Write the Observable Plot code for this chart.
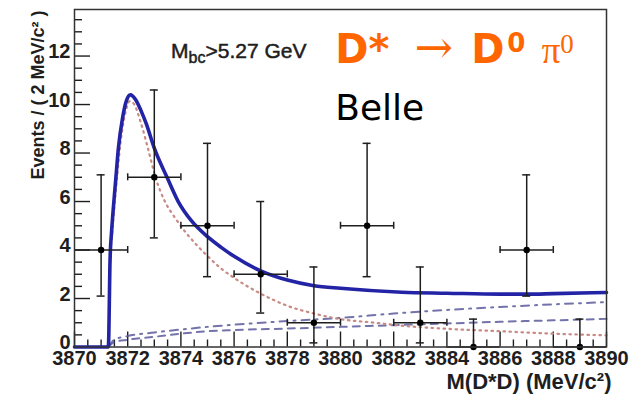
<!DOCTYPE html>
<html>
<head>
<meta charset="utf-8">
<script src="https://cdn.jsdelivr.net/npm/d3@7"></script>
<script src="https://cdn.jsdelivr.net/npm/@observablehq/plot@0.6"></script>
<style>
  html, body { margin: 0; padding: 0; background: #fff; }
  #chart { width: 640px; height: 396px; overflow: hidden; }
  #chart svg { display: block; }
</style>
</head>
<body>
<div id="chart"></div>
<script>
// ---- Binned events (2 MeV bins) with asymmetric Poisson error bounds ----
const binCenters = [3871, 3873, 3875, 3877, 3879, 3881, 3883, 3885, 3887, 3889];
const counts     = [4, 7, 5, 3, 1, 5, 1, 0, 4, 0];
const errLow     = [2.1, 4.5, 2.9, 1.4, 0.17, 2.9, 0.17, 0, 2.1, 0];
const errHigh    = [7.1, 10.6, 8.4, 6.0, 3.3, 8.4, 3.3, 1.15, 7.1, 1.15];
const binHalfWidth = 1;

// ---- Fit curves ----
// total fit (signal + background)
const totalMass = [3870, 3871.27, 3871.29, 3871.31, 3871.33, 3871.35, 3871.39, 3871.48, 3871.55,
  3871.65, 3871.8, 3871.95, 3872.1, 3872.3, 3872.5, 3872.7, 3873.0, 3873.5, 3873.9, 3874.4,
  3875, 3875.5, 3876, 3877, 3878, 3879, 3880, 3882.3, 3884, 3886, 3887, 3888, 3890];
const totalFit = [0, 0, 0.5, 1.9, 3.3, 4.0, 4.7, 6.0, 6.9,
  8.2, 9.4, 10.15, 10.4, 10.2, 9.75, 9.2, 8.2, 6.95, 6.0, 5.2,
  4.55, 4.12, 3.74, 3.14, 2.76, 2.53, 2.42, 2.26, 2.22, 2.18, 2.18, 2.2, 2.25];

// signal component
const signalMass = [3871.27, 3871.29, 3871.31, 3871.33, 3871.36, 3871.42, 3871.5, 3871.6,
  3871.75, 3871.9, 3872.08, 3872.25, 3872.48, 3872.76, 3873.05, 3873.4, 3873.8, 3874.2,
  3874.6, 3875, 3875.5, 3876, 3877, 3878, 3879, 3880, 3881.3, 3882.3, 3884, 3886, 3888, 3890];
const signalFit = [0, 0.4, 1.6, 3.0, 3.9, 4.7, 5.8, 7.0,
  8.6, 9.6, 10.14, 10.0, 9.3, 8.2, 6.98, 6.0, 5.3, 4.7,
  4.2, 3.75, 3.25, 2.85, 2.2, 1.7, 1.38, 1.15, 1.0, 0.88, 0.75, 0.65, 0.55, 0.48];

// total background
const bkgMass = [3871.27, 3871.5, 3872, 3873, 3874, 3875, 3876, 3878, 3880, 3882, 3884, 3886, 3888, 3890];
const bkgFit  = [0, 0.3, 0.45, 0.6, 0.72, 0.83, 0.92, 1.07, 1.2, 1.38, 1.53, 1.65, 1.76, 1.85];

// one background component
const bkgPartMass = [3871.27, 3871.5, 3872, 3873, 3874, 3875, 3876, 3878, 3880, 3882, 3884, 3886, 3888, 3890];
const bkgPartFit  = [0, 0.2, 0.3, 0.42, 0.55, 0.65, 0.7, 0.76, 0.83, 0.9, 0.97, 1.04, 1.1, 1.16];

// ---- Axes ----
const xMajorTicks = [3870, 3872, 3874, 3876, 3878, 3880, 3882, 3884, 3886, 3888, 3890];
const yMajorTicks = [0, 2, 4, 6, 8, 10, 12];
const xMinorTicks = d3.range(3870, 3890.01, 0.5).filter(v => v % 2 !== 0);
const yMinorTicks = d3.range(0, 13.9, 0.5).filter(v => v % 2 !== 0);
const xDomain = [3870, 3890];
const yDomain = [0, 13.92];

const W = 640, H = 396;
const mL = 74, mR = 34, mT = 9, mB = 49.5;
const plotW = W - mL - mR, plotH = H - mT - mB;
// convert a pixel length to data units along each axis (for inward tick marks)
const pxX = p => p * (xDomain[1] - xDomain[0]) / plotW;
const pxY = p => p * (yDomain[1] - yDomain[0]) / plotH;

const points = binCenters.map((x, i) => ({x, n: counts[i], lo: errLow[i], hi: errHigh[i]}));
const zip = (xs, ys) => xs.map((x, i) => ({x, y: ys[i]}));

const ink = "#1e1e1e";
const axisFont = "'Liberation Sans', Arial, Helvetica, sans-serif";

const plot = Plot.plot({
  width: W, height: H,
  marginLeft: mL, marginRight: mR, marginTop: mT, marginBottom: mB,
  x: {domain: xDomain, axis: null},
  y: {domain: yDomain, axis: null},
  style: {background: "#fff", overflow: "visible"},
  marks: [
    // inward ticks on the x axis
    Plot.ruleX(xMinorTicks, {x: d => d, y1: 0, y2: pxY(7), stroke: ink, strokeWidth: 1.4}),
    Plot.ruleX(xMajorTicks, {x: d => d, y1: 0, y2: pxY(15), stroke: ink, strokeWidth: 1.4}),
    // inward ticks on the y axis
    Plot.ruleY(yMinorTicks, {y: d => d, x1: xDomain[0], x2: xDomain[0] + pxX(8), stroke: ink, strokeWidth: 1.4}),
    Plot.ruleY(yMajorTicks, {y: d => d, x1: xDomain[0], x2: xDomain[0] + pxX(16), stroke: ink, strokeWidth: 1.4}),

    // fit components
    Plot.line(zip(bkgPartMass, bkgPartFit), {x: "x", y: "y", curve: "monotone-x",
      stroke: "#5b5b9e", strokeWidth: 2, strokeDasharray: "7,6", strokeOpacity: 0.85}),
    Plot.line(zip(bkgMass, bkgFit), {x: "x", y: "y", curve: "monotone-x",
      stroke: "#5b5b9e", strokeWidth: 2, strokeDasharray: "8,6,2,6", strokeOpacity: 0.85}),
    Plot.line(zip(signalMass, signalFit), {x: "x", y: "y", curve: "monotone-x",
      stroke: "#c98a84", strokeWidth: 2.2, strokeDasharray: "1.5,4.5", strokeLinecap: "round"}),
    Plot.line(zip(totalMass, totalFit), {x: "x", y: "y", curve: "monotone-x",
      stroke: "#2323a6", strokeWidth: 3.6}),

    // error bars
    Plot.ruleX(points, {x: "x", y1: "lo", y2: "hi", stroke: ink, strokeWidth: 1.5}),
    Plot.ruleY(points, {y: "n", x1: d => d.x - binHalfWidth, x2: d => d.x + binHalfWidth, stroke: ink, strokeWidth: 1.5}),
    Plot.ruleY(points, {y: "hi", x1: d => d.x - pxX(4), x2: d => d.x + pxX(4), stroke: ink, strokeWidth: 1.5}),
    Plot.ruleY(points.filter(d => d.lo > 0), {y: "lo", x1: d => d.x - pxX(4), x2: d => d.x + pxX(4), stroke: ink, strokeWidth: 1.5}),
    Plot.ruleX(points.filter(d => d.n > 0), {x: d => d.x + binHalfWidth, y1: d => d.n - pxY(3.5), y2: d => d.n + pxY(3.5), stroke: ink, strokeWidth: 1.5}),
    Plot.ruleX(points.filter(d => d.n > 0 && d.x - binHalfWidth > xDomain[0]), {x: d => d.x - binHalfWidth, y1: d => d.n - pxY(3.5), y2: d => d.n + pxY(3.5), stroke: ink, strokeWidth: 1.5}),
    Plot.dot(points, {x: "x", y: "n", r: 3.2, fill: "#000", stroke: "none"}),

    // frame
    Plot.frame({stroke: "#333", strokeWidth: 1.5}),

    // tick labels
    Plot.text(xMajorTicks, {x: d => d, y: 0, dy: 12, text: d => String(d), lineAnchor: "middle",
      fontSize: 20, fontWeight: "bold", fontFamily: axisFont, fill: ink}),
    Plot.text(yMajorTicks, {x: xDomain[0], y: d => d, dx: -4, dy: -4, text: d => String(d), lineAnchor: "middle",
      textAnchor: "end", fontSize: 20, fontWeight: "bold", fontFamily: axisFont, fill: ink}),

    // axis titles
    Plot.text(["M(D*D) (MeV/c\u00b2)"], {frameAnchor: "bottom-right", dx: 5, dy: 35, lineAnchor: "middle", text: d => d,
      textAnchor: "end", fontSize: 22, fontWeight: "bold", fontFamily: axisFont, fill: ink}),
    Plot.text(["Events / ( 2 MeV/c\u00b2 )"], {frameAnchor: "top-left", dx: -36, dy: 1, rotate: -90, lineAnchor: "middle", text: d => d,
      textAnchor: "end", fontSize: 18, fontWeight: "bold", fontFamily: axisFont, fill: ink})
  ]
});

document.getElementById("chart").appendChild(plot);

// ---- Annotations with sub/superscripts ----
const svg = d3.select(plot);
const sx = plot.scale("x"), sy = plot.scale("y");

const cut = svg.append("text")
  .attr("x", sx.apply(3873.65)).attr("y", sy.apply(11.9))
  .attr("text-anchor", "start")
  .attr("font-family", axisFont).attr("font-size", 21)
  .attr("fill", ink).attr("stroke", ink).attr("stroke-width", 0.5);
cut.append("tspan").text("M");
cut.append("tspan").attr("font-size", 16).attr("dy", 5).text("bc");
cut.append("tspan").attr("dy", -5).text(">5.27 GeV");

// D* -> D0 pi0, each glyph group placed along the mass axis
const decayY = sy.apply(11.7);
const decay = svg.append("text")
  .attr("y", decayY)
  .attr("text-anchor", "start")
  .attr("fill", "#ff6600");
decay.append("tspan").attr("x", sx.apply(3879.82))
  .attr("font-family", "'DejaVu Sans', Verdana, sans-serif").attr("font-weight", "bold")
  .attr("font-size", 40).text("D*");
decay.append("tspan").attr("x", sx.apply(3882.8))
  .attr("font-family", "'DejaVu Serif', 'Liberation Serif', serif")
  .attr("font-size", 46).text("\u2192");
decay.append("tspan").attr("x", sx.apply(3884.93))
  .attr("font-family", "'DejaVu Sans', Verdana, sans-serif").attr("font-weight", "bold")
  .attr("font-size", 40).text("D");
decay.append("tspan")
  .attr("font-family", "'DejaVu Sans', Verdana, sans-serif").attr("font-weight", "bold")
  .attr("font-size", 26).attr("dx", 3).attr("dy", -11).text("0");
decay.append("tspan").attr("x", sx.apply(3887.58)).attr("dy", 11)
  .attr("font-family", "'Liberation Serif', 'Times New Roman', serif")
  .attr("font-size", 37).text("\u03c0");
decay.append("tspan")
  .attr("font-family", "'Liberation Serif', 'Times New Roman', serif")
  .attr("font-size", 27).attr("dy", -10).text("0");

svg.append("text")
  .attr("x", sx.apply(3879.82)).attr("y", sy.apply(9.33))
  .attr("text-anchor", "start")
  .attr("font-family", "'DejaVu Sans', Verdana, sans-serif")
  .attr("font-size", 36).attr("fill", "#000").text("Belle");
</script>
</body>
</html>
